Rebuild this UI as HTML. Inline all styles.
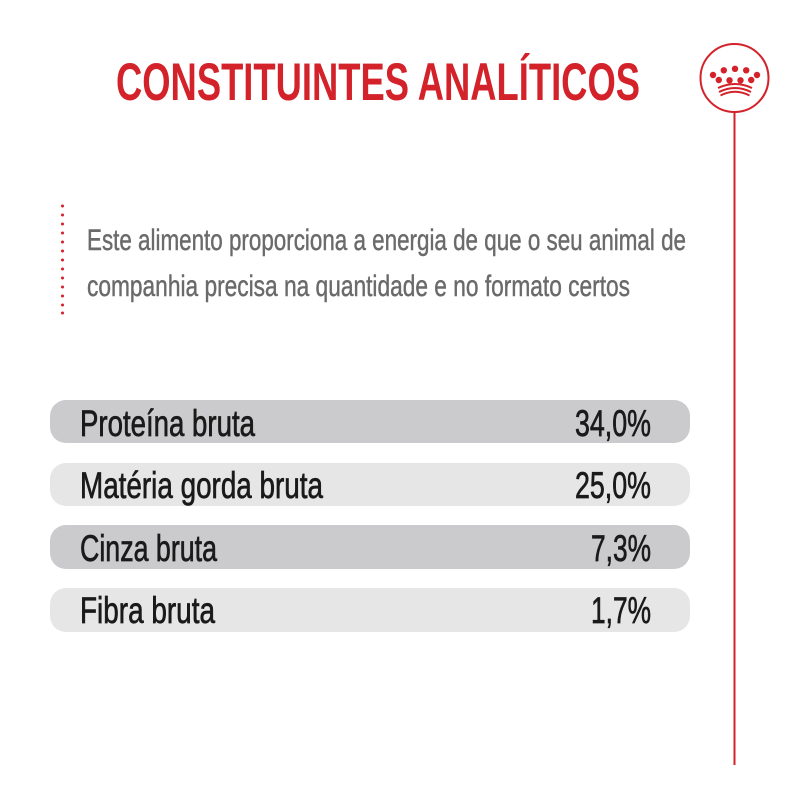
<!DOCTYPE html>
<html>
<head>
<meta charset="utf-8">
<style>
  html,body{margin:0;padding:0;background:#ffffff;}
  svg{display:block;}
  text{font-family:"Liberation Sans", sans-serif;}
</style>
</head>
<body>
<svg width="800" height="800" viewBox="0 0 800 800" xmlns="http://www.w3.org/2000/svg">
  <rect width="800" height="800" fill="#ffffff"/>

  <!-- Title -->
  <text x="116" y="100" font-size="53" font-weight="bold" fill="#d3222a" textLength="524" lengthAdjust="spacingAndGlyphs">CONSTITUINTES ANALÍTICOS</text>

  <!-- Logo circle + line -->
  <circle cx="734.5" cy="78" r="34" fill="none" stroke="#d3222a" stroke-width="2"/>
  <line x1="734.5" y1="112" x2="734.5" y2="765" stroke="#d3222a" stroke-width="2"/>
  <g fill="#d3222a">
    <circle cx="723.8" cy="70.3" r="3.2"/>
    <circle cx="735" cy="68.8" r="3.2"/>
    <circle cx="746.2" cy="70.3" r="3.2"/>
    <circle cx="713" cy="75" r="3.2"/>
    <circle cx="757" cy="75" r="3.2"/>
    <circle cx="718.8" cy="80" r="3.2"/>
    <circle cx="729.5" cy="80.3" r="3.2"/>
    <circle cx="740.5" cy="80.3" r="3.2"/>
    <circle cx="751.2" cy="80" r="3.2"/>
  </g>
  <g fill="none" stroke="#d3222a" stroke-width="2">
    <path d="M718 88 Q735 80 752 88"/>
    <path d="M719 92 Q735 84 751 92"/>
    <path d="M720.5 95.5 Q735 88 749.5 95.5"/>
  </g>

  <!-- Dotted red vertical -->
  <g fill="#d3222a">
    <circle cx="62.5" cy="206" r="1.5"/>
    <circle cx="62.5" cy="215" r="1.5"/>
    <circle cx="62.5" cy="224" r="1.5"/>
    <circle cx="62.5" cy="233" r="1.5"/>
    <circle cx="62.5" cy="242" r="1.5"/>
    <circle cx="62.5" cy="251" r="1.5"/>
    <circle cx="62.5" cy="260" r="1.5"/>
    <circle cx="62.5" cy="269" r="1.5"/>
    <circle cx="62.5" cy="278" r="1.5"/>
    <circle cx="62.5" cy="287" r="1.5"/>
    <circle cx="62.5" cy="296" r="1.5"/>
    <circle cx="62.5" cy="305" r="1.5"/>
    <circle cx="62.5" cy="313" r="1.5"/>
  </g>

  <!-- Paragraph -->
  <g fill="#6a6a6a" stroke="#6a6a6a" stroke-width="0.45" font-size="30">
    <text x="87" y="250" textLength="599" lengthAdjust="spacingAndGlyphs">Este alimento proporciona a energia de que o seu animal de</text>
    <text x="87" y="296" textLength="543" lengthAdjust="spacingAndGlyphs">companhia precisa na quantidade e no formato certos</text>
  </g>

  <!-- Rows -->
  <rect x="50" y="400" width="640" height="43" rx="16" ry="16" fill="#cbcacc"/>
  <rect x="50" y="463" width="640" height="43" rx="16" ry="16" fill="#e7e6e6"/>
  <rect x="50" y="525" width="640" height="44" rx="16" ry="16" fill="#cbcacc"/>
  <rect x="50" y="588" width="640" height="44" rx="16" ry="16" fill="#e7e6e6"/>

  <g fill="#1a1a1a" stroke="#1a1a1a" stroke-width="0.7" font-size="37">
    <text x="80" y="436" textLength="175" lengthAdjust="spacingAndGlyphs">Proteína bruta</text>
    <text x="80" y="498" textLength="243" lengthAdjust="spacingAndGlyphs">Matéria gorda bruta</text>
    <text x="80" y="561" textLength="137" lengthAdjust="spacingAndGlyphs">Cinza bruta</text>
    <text x="80" y="623" textLength="135" lengthAdjust="spacingAndGlyphs">Fibra bruta</text>

    <text x="575" y="436" textLength="76" lengthAdjust="spacingAndGlyphs">34,0%</text>
    <text x="575" y="498" textLength="76" lengthAdjust="spacingAndGlyphs">25,0%</text>
    <text x="591" y="561" textLength="60" lengthAdjust="spacingAndGlyphs">7,3%</text>
    <text x="591" y="623" textLength="60" lengthAdjust="spacingAndGlyphs">1,7%</text>
  </g>
</svg>
</body>
</html>
